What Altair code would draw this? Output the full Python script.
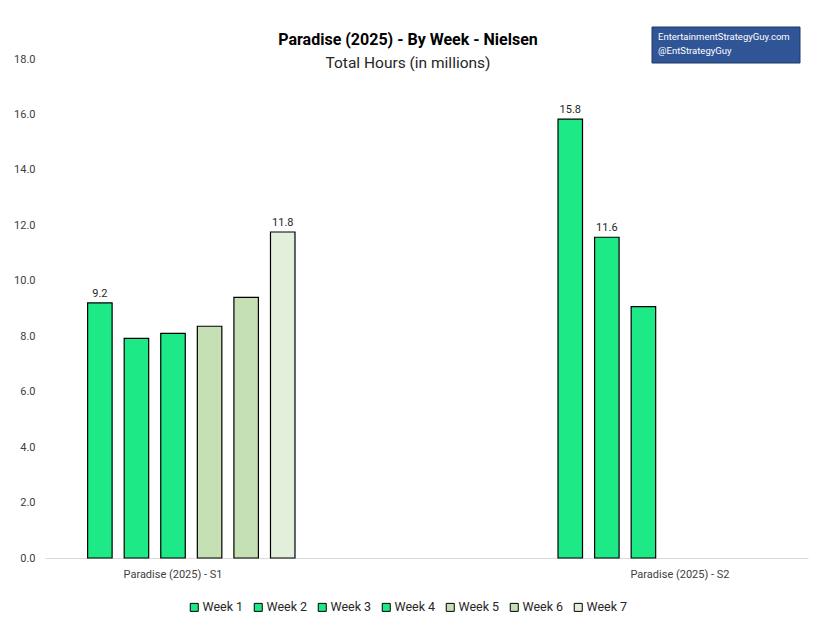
import altair as alt
import pandas as pd

# ---- data ----
seasons = ["Paradise (2025) - S1", "Paradise (2025) - S2"]
weeks = ["Week 1", "Week 2", "Week 3", "Week 4", "Week 5", "Week 6", "Week 7"]
s1_values = [None, 9.2, 7.92, 8.1, 8.36, 9.4, 11.76]
s2_values = [15.83, 11.57, 9.07, None, None, None, None]
s1_labels = ["", "9.2", "", "", "", "", "11.8"]
s2_labels = ["15.8", "11.6", "", "", "", "", ""]
week_colors = ["#1de986", "#1de986", "#1de986", "#1de986", "#c5e0b4", "#c5e0b4", "#e2efda"]
title_text = "Paradise (2025) - By Week - Nielsen"
subtitle_text = "Total Hours (in millions)"
watermark_lines = ["EntertainmentStrategyGuy.com", "@EntStrategyGuy"]

rows = []
for season, vals, labs in [(seasons[0], s1_values, s1_labels), (seasons[1], s2_values, s2_labels)]:
    for w, v, l in zip(weeks, vals, labs):
        if v is not None:
            rows.append({"season": season, "week": w, "hours": v, "label": l})
df = pd.DataFrame(rows)

FONT = "Roboto"
W, H = 763, 499

x_enc = alt.X("season:N", sort=seasons,
              scale=alt.Scale(paddingInner=0.495, paddingOuter=0),
              axis=alt.Axis(title=None, labelAngle=0, ticks=False, domainColor="#d9d9d9",
                            labelFontSize=11, labelColor="#404040", labelFont=FONT,
                            labelPadding=10))
xoff = alt.XOffset("week:N", sort=weeks,
                   scale=alt.Scale(domain=weeks, paddingInner=0.33, paddingOuter=0.165))
y_enc = alt.Y("hours:Q", scale=alt.Scale(domain=[0, 18], nice=False),
              axis=alt.Axis(title=None, values=list(range(0, 19, 2)), format=".1f",
                            grid=False, domain=False, ticks=False, labelFontSize=11,
                            labelColor="#404040", labelFont=FONT, labelPadding=10))

bars = alt.Chart(df).mark_bar(stroke="black", strokeWidth=1.2).encode(
    x=x_enc, xOffset=xoff, y=y_enc,
    color=alt.Color("week:N", sort=weeks,
                    scale=alt.Scale(domain=weeks, range=week_colors),
                    legend=alt.Legend(title=None, orient="none", direction="horizontal",
                                      legendX=143, legendY=542, symbolType="square",
                                      symbolSize=64, symbolStrokeColor="black",
                                      symbolStrokeWidth=1, labelFontSize=12.5,
                                      labelFont=FONT, labelColor="#262626",
                                      columnPadding=8, labelOffset=2)),
)

labels = alt.Chart(df).mark_text(dy=-9, fontSize=11, font=FONT,
                                 color="#262626").encode(
    x=alt.X("season:N", sort=seasons), xOffset=alt.XOffset("week:N", sort=weeks),
    y="hours:Q", text="label:N",
)

tdf = pd.DataFrame({"t": [title_text]})
title_mark = alt.Chart(tdf).mark_text(fontSize=16, fontWeight="bold", font=FONT,
                                      color="black", baseline="middle").encode(
    x=alt.value(363), y=alt.value(-19), text="t:N")
sdf = pd.DataFrame({"t": [subtitle_text]})
subtitle_mark = alt.Chart(sdf).mark_text(fontSize=15.5, font=FONT,
                                         color="#262626", baseline="middle").encode(
    x=alt.value(363), y=alt.value(4), text="t:N")

wm_df = pd.DataFrame({"t": ["\n".join(watermark_lines)]})
wm_box = alt.Chart(wm_df).mark_rect(fill="#2f5597", stroke="#1f3864", strokeWidth=1).encode(
    x=alt.value(607), x2=alt.value(755), y=alt.value(-32), y2=alt.value(4))
wm_text = alt.Chart(wm_df).mark_text(align="left", baseline="top", fontSize=9.5,
                                     font=FONT, color="white", lineBreak="\n",
                                     lineHeight=14).encode(
    x=alt.value(613), y=alt.value(-27), text="t:N")

chart = alt.layer(bars, labels, title_mark, subtitle_mark, wm_box, wm_text).properties(
    width=W, height=H,
    autosize=alt.AutoSizeParams(type="none"),
    padding={"left": 37, "top": 51, "right": 16, "bottom": 70},
).configure_view(stroke=None)

chart.save("out.html", embed_options={"renderer": "svg", "actions": False})
